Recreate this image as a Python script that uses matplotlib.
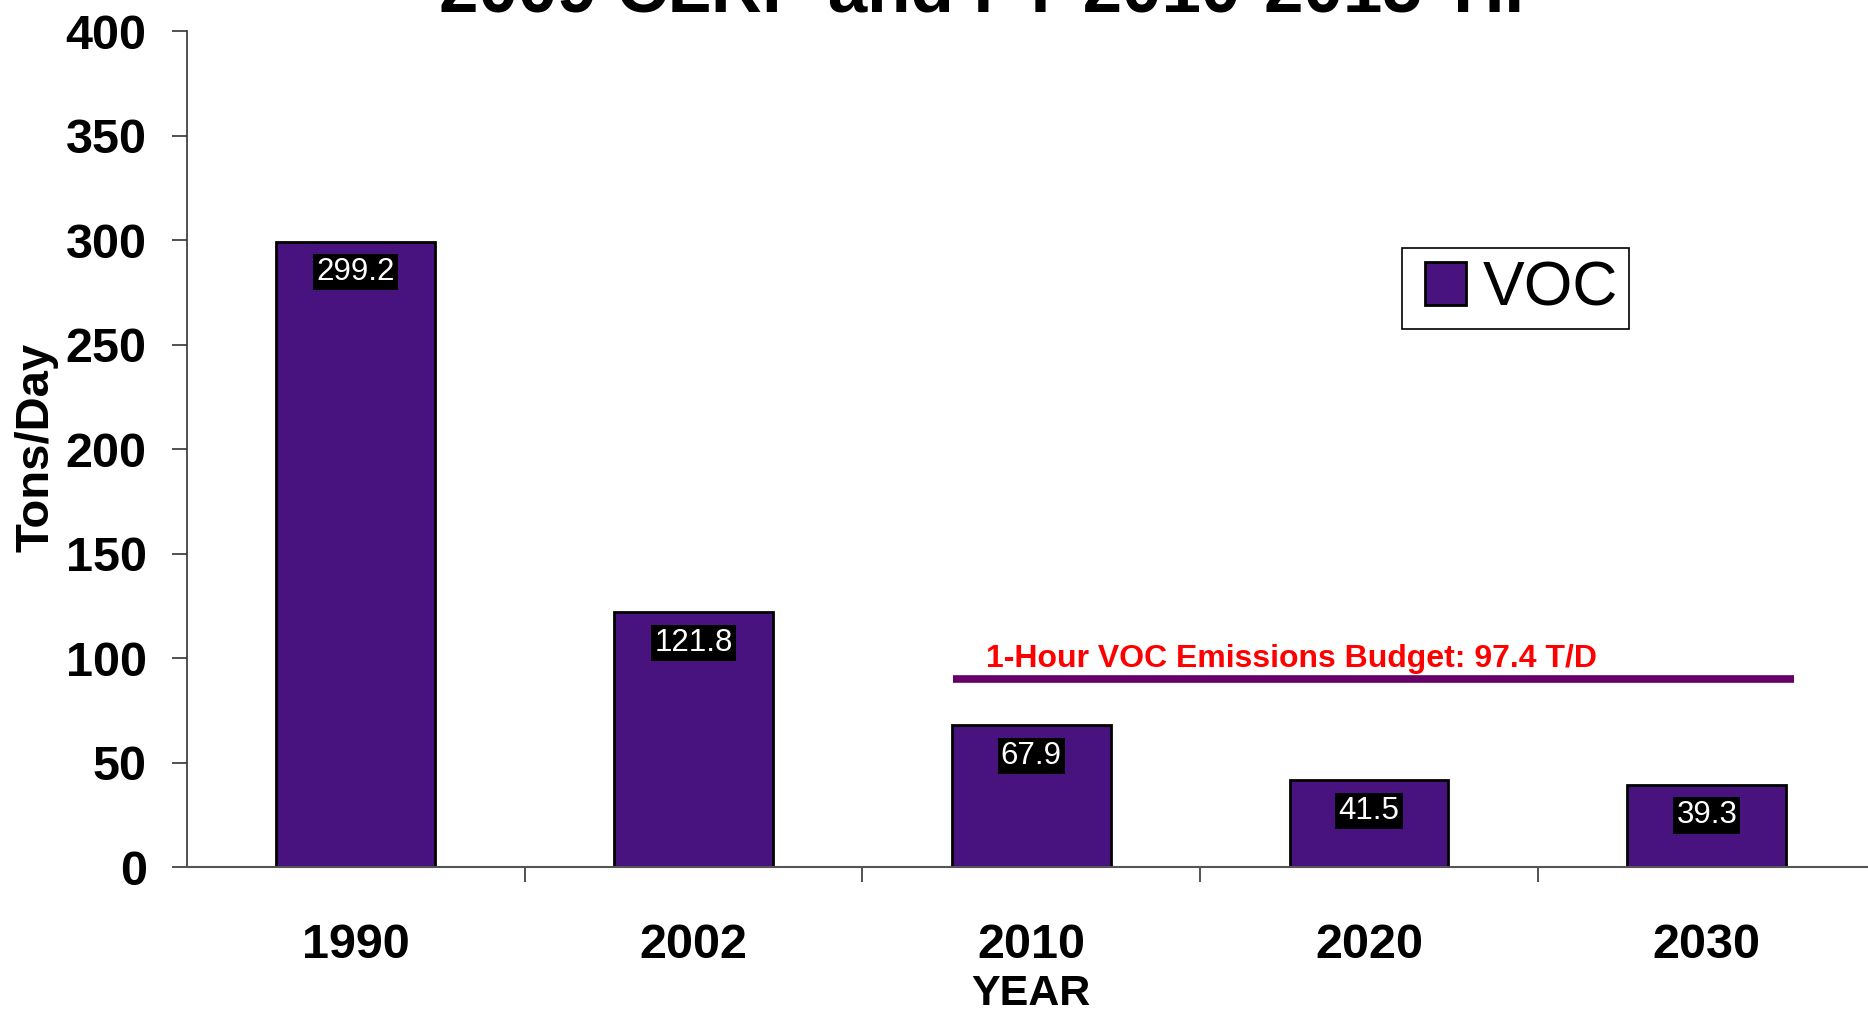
import matplotlib.pyplot as plt
from matplotlib.ticker import FixedLocator
from matplotlib.patches import Rectangle
from matplotlib.legend_handler import HandlerPatch

years = ['1990', '2002', '2010', '2020', '2030']
voc = [299.2, 121.8, 67.9, 41.5, 39.3]
budget_label = '1-Hour VOC Emissions Budget: 97.4 T/D'
budget_line_y = 90
title = '2009 CLRP and FY 2010-2015 TIP'

plt.rcParams['font.family'] = ['Liberation Sans', 'DejaVu Sans']

fig = plt.figure(figsize=(18.68, 10.11), dpi=100)
ax = fig.add_axes([0.1001, 0.1424, 0.904, 0.8269])

x = list(range(len(years)))
bars = ax.bar(x, voc, width=0.47, color='#48137f', edgecolor='black',
              linewidth=2, label='VOC', zorder=2)

# etiquettes de valeur sur fond noir
for xi, v in zip(x, voc):
    ax.annotate(f'{v:.1f}', (xi, v), xytext=(0, -22), textcoords='offset points',
                ha='center', va='center', color='white', fontsize=22.5,
                bbox=dict(boxstyle='square,pad=0.1', fc='black', ec='none'),
                zorder=3)

# ligne du budget
ax.plot([1.768, 4.259], [budget_line_y, budget_line_y], color='#660066',
        linewidth=5.5, solid_capstyle='butt', zorder=2)
ax.text(1.866, 95.5, budget_label, color='red', fontsize=23, fontweight='bold',
        va='baseline', ha='left')

ax.set_xlim(-0.5, 4.5)
ax.set_ylim(0, 400)
ax.set_yticks(range(0, 401, 50))
ax.set_xticks(x)
ax.set_xticklabels(years)
ax.xaxis.set_minor_locator(FixedLocator([0.5, 1.5, 2.5, 3.5]))

ax.tick_params(axis='y', labelsize=35, length=11, width=1.2, pad=18,
               color='#333333')
ax.tick_params(axis='x', which='major', labelsize=35, length=0, pad=40)
ax.tick_params(axis='x', which='minor', length=11, width=1.2, color='#333333')
for lab in ax.get_xticklabels() + ax.get_yticklabels():
    lab.set_fontweight('bold')

for side in ['top', 'right']:
    ax.spines[side].set_visible(False)
ax.spines['left'].set_color('#333333')
ax.spines['bottom'].set_color('#555555')
ax.spines['left'].set_linewidth(1.2)
ax.spines['bottom'].set_linewidth(1.5)

ax.set_xlabel('YEAR', fontsize=31, fontweight='bold')
ax.xaxis.set_label_coords(0.5, -0.152)
ax.xaxis.label.set_va('center')
ax.set_ylabel('Tons/Day', fontsize=34, fontweight='bold')
ax.yaxis.set_label_coords(-0.0894, 0.502)
ax.yaxis.label.set_va('center')


# carré de légende décalé vers la droite dans sa zone
def square_patch(legend, orig_handle, xdescent, ydescent, width, height, fontsize):
    pw = 0.65 * fontsize
    return Rectangle((-xdescent + width - pw, -ydescent), pw, height)


leg = ax.legend(handles=[bars.patches[0]], labels=['VOC'],
                loc='upper left', bbox_to_anchor=(0.7505, 0.7547),
                bbox_transform=fig.transFigure, fontsize=45, fancybox=False,
                framealpha=1, edgecolor='black', borderpad=0.18,
                handlelength=0.84, handleheight=0.68, handletextpad=0.27,
                borderaxespad=0,
                handler_map={Rectangle: HandlerPatch(patch_func=square_patch)})
leg.get_frame().set_linewidth(1.2)

fig.text(0.533, 0.989, title, ha='center', va='baseline', fontsize=51,
         fontweight='bold')

fig.savefig('out.png', dpi=100)
